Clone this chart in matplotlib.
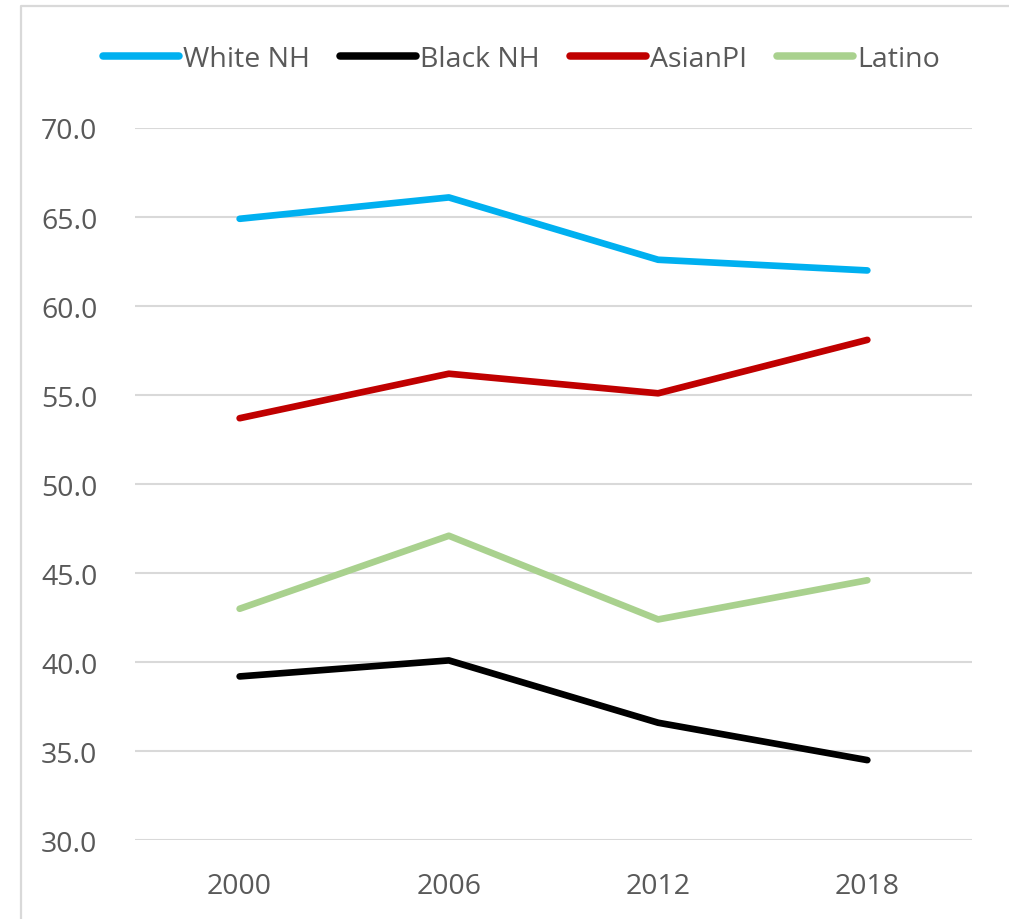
import numpy as np
import matplotlib.pyplot as plt
from matplotlib.lines import Line2D

years = ["2000", "2006", "2012", "2018"]
white_nh = [64.9, 66.1, 62.6, 62.0]
black_nh = [39.2, 40.1, 36.6, 34.5]
asian_pi = [53.7, 56.2, 55.1, 58.1]
latino = [43.0, 47.1, 42.4, 44.6]

series = [("White NH", white_nh, "#00B0F0"),
          ("Black NH", black_nh, "#000000"),
          ("AsianPI", asian_pi, "#C00000"),
          ("Latino", latino, "#A9D18E")]

plt.rcParams['font.family'] = ['Open Sans', 'DejaVu Sans']
txtcol = "#595959"
gridcol = "#D9D9D9"

fig = plt.figure(figsize=(10.09, 9.2), dpi=100)
ax = fig.add_axes([0.1338, 0.0856, 0.8295, 0.7742])

x = np.arange(len(years))
for name, vals, col in series:
    ax.plot(x, vals, color=col, lw=4.8, label=name,
            solid_capstyle='round', solid_joinstyle='round')

ax.set_xlim(-0.5, 3.5)
ax.set_ylim(30, 70)
ax.set_yticks(np.arange(30, 71, 5))
ax.set_yticklabels(["%.1f" % v for v in np.arange(30, 71, 5)])
ax.set_xticks(x)
ax.set_xticklabels(years)
ax.tick_params(axis='both', length=0, labelsize=20.5, labelcolor=txtcol)
ax.tick_params(axis='y', pad=27)
ax.tick_params(axis='x', pad=23)
ax.grid(axis='y', color=gridcol, lw=1.5)
ax.set_axisbelow(True)
for s in ax.spines.values():
    s.set_visible(False)

# chart frame: only the top and left edges fall inside the canvas
fx, fy = 21/1009, 1 - 7/920
fig.lines.append(Line2D([fx, fx, 1.0], [0.0, fy, fy], color=gridcol, lw=1.6,
                        transform=fig.transFigure))

leg = fig.legend(loc='center', bbox_to_anchor=(0.517, 0.935), ncol=4,
                 frameon=False, fontsize=20.5, handlelength=2.67,
                 handletextpad=0.15, columnspacing=1.05)
for t in leg.get_texts():
    t.set_color(txtcol)
for h in leg.get_lines():
    h.set_linewidth(5.4)

fig.savefig("out.png", dpi=100)
